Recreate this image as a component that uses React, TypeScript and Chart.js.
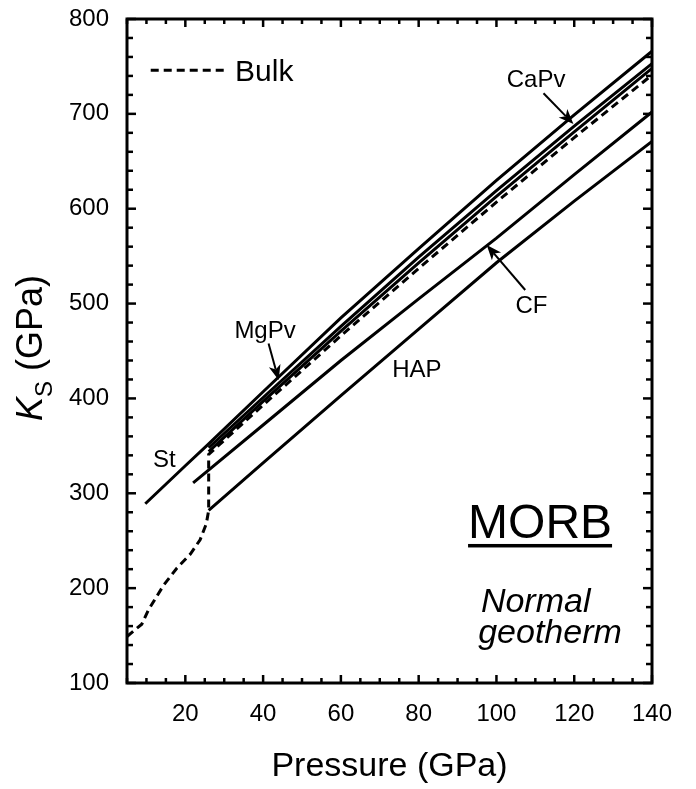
import React, { useEffect, useRef } from "react";
import { Chart, registerables } from "chart.js";
Chart.register(...registerables);

// ---- data (pressure in GPa, K_S in GPa) ----
const stP = [9.7, 20, 26, 40, 60, 80, 100, 120, 140];
const stK = [289, 329, 352, 407, 485, 558, 630, 699, 766];

const caPvP = [26, 40, 60, 80, 100, 120, 140];
const caPvK = [348, 401, 476, 549, 619, 687, 753];

const mgPvP = [26, 40, 60, 80, 100, 120, 140];
const mgPvK = [344, 397, 471, 543, 613, 681, 748];

const cfP = [22, 40, 60, 80, 100, 120, 140];
const cfK = [311, 372, 440, 505, 569, 636, 702];

const hapP = [26, 40, 60, 80, 100, 120, 140];
const hapK = [282, 332, 403, 473, 543, 608, 671];

const bulkP = [5, 8.8, 10.5, 14.4, 17.8, 21.3, 23.8, 25.4, 26, 26, 40, 60, 80, 100, 120, 140];
const bulkK = [149, 162, 177, 203, 221, 236, 251, 268, 282, 341, 393, 466, 537, 607, 675, 741];

const xTickLabels = [20, 40, 60, 80, 100, 120, 140];
const yTickLabels = [100, 200, 300, 400, 500, 600, 700, 800];
const X_MIN = 5;
const X_MAX = 140;
const Y_MIN = 100;
const Y_MAX = 800;
const X_MINOR = 5;
const Y_MINOR = 20;

const FONT = '"Liberation Sans", Arial, Helvetica, sans-serif';

const pts = (p: number[], k: number[]) => p.map((x, i) => ({ x, y: k[i] }));

function drawArrow(ctx: CanvasRenderingContext2D, x1: number, y1: number, x2: number, y2: number) {
  const ang = Math.atan2(y2 - y1, x2 - x1);
  const L = 15, W = 6, N = 11;
  ctx.beginPath();
  ctx.moveTo(x1, y1);
  ctx.lineTo(x2 - Math.cos(ang) * N, y2 - Math.sin(ang) * N);
  ctx.lineWidth = 2;
  ctx.stroke();
  const bx = x2 - Math.cos(ang) * L, by = y2 - Math.sin(ang) * L;
  const nx = -Math.sin(ang), ny = Math.cos(ang);
  ctx.beginPath();
  ctx.moveTo(x2, y2);
  ctx.lineTo(bx + nx * W, by + ny * W);
  ctx.lineTo(x2 - Math.cos(ang) * N, y2 - Math.sin(ang) * N);
  ctx.lineTo(bx - nx * W, by - ny * W);
  ctx.closePath();
  ctx.fill();
}

const overlay = {
  id: "overlay",
  afterDraw(chart: any) {
    const { ctx, chartArea: a, scales } = chart;
    const xs = scales.x, ys = scales.y;
    const px = (v: number) => xs.getPixelForValue(v);
    const py = (v: number) => ys.getPixelForValue(v);
    ctx.save();
    ctx.strokeStyle = "#000";
    ctx.fillStyle = "#000";
    const seg = (x1: number, y1: number, x2: number, y2: number) => {
      ctx.beginPath();
      ctx.moveTo(x1, y1);
      ctx.lineTo(x2, y2);
      ctx.stroke();
    };
    // inward ticks
    ctx.lineWidth = 2.5;
    for (let v = X_MIN; v <= X_MAX + 1e-6; v += X_MINOR) {
      const major = xTickLabels.includes(v);
      const len = major ? 8 : 5;
      const x = px(v);
      seg(x, a.bottom, x, a.bottom - len);
      seg(x, a.top, x, a.top + len);
    }
    for (let v = Y_MIN; v <= Y_MAX + 1e-6; v += Y_MINOR) {
      const major = yTickLabels.includes(v);
      const len = major ? 9 : 6;
      const y = py(v);
      seg(a.left, y, a.left + len, y);
      seg(a.right, y, a.right - len, y);
    }
    // frame
    ctx.lineWidth = 3;
    ctx.strokeRect(a.left, a.top, a.right - a.left, a.bottom - a.top);

    // legend
    ctx.lineWidth = 3;
    ctx.setLineDash([8, 5]);
    seg(px(11.1), py(746), px(30.2), py(746));
    ctx.setLineDash([]);
    ctx.font = `30px ${FONT}`;
    ctx.textAlign = "left";
    ctx.textBaseline = "alphabetic";
    ctx.fillText("Bulk", px(32.8), py(734.6));

    // mineral labels
    ctx.font = `24px ${FONT}`;
    ctx.textAlign = "center";
    ctx.fillText("CaPv", px(110.2), py(728.3));
    ctx.fillText("MgPv", px(40.5), py(463.7));
    ctx.fillText("CF", px(109), py(490));
    ctx.textAlign = "left";
    ctx.fillText("HAP", px(73.2), py(422.6));
    ctx.fillText("St", px(11.7), py(327.7));

    // arrows
    drawArrow(ctx, px(112.1), py(721.7), px(119.8), py(689.3));
    drawArrow(ctx, px(41.4), py(458), px(44), py(419.4));
    drawArrow(ctx, px(107.4), py(514.3), px(97.5), py(561.7));

    // MORB
    ctx.font = `48px ${FONT}`;
    ctx.textAlign = "left";
    const mx = px(92.7), my = py(252.9);
    ctx.fillText("MORB", mx, my);
    const mw = ctx.measureText("MORB").width;
    ctx.fillRect(mx, my + 6, mw, 3.5);

    ctx.font = `italic 34px ${FONT}`;
    ctx.fillText("Normal", px(96), py(174.9));
    ctx.fillText("geotherm", px(95.3), py(142.2));

    // y-axis title: K_S (GPa)
    const f1 = `italic 36px ${FONT}`, f2 = `24px ${FONT}`, f3 = `36px ${FONT}`;
    ctx.font = f1; const wK = ctx.measureText("K").width;
    ctx.font = f2; const wS = ctx.measureText("S").width;
    ctx.font = f3; const wG = ctx.measureText(" (GPa)").width;
    const total = wK + wS + wG;
    const cy = (a.top + a.bottom) / 2 - 3;
    ctx.translate(42, cy + total / 2);
    ctx.rotate(-Math.PI / 2);
    ctx.textAlign = "left";
    ctx.font = f1; ctx.fillText("K", 0, 0);
    ctx.font = f2; ctx.fillText("S", wK, 10);
    ctx.font = f3; ctx.fillText(" (GPa)", wK + wS, 0);
    ctx.restore();
  },
};

export default function App() {
  const ref = useRef<HTMLCanvasElement | null>(null);
  useEffect(() => {
    if (!ref.current) return;
    const solid = (label: string, p: number[], k: number[]) => ({
      label,
      data: pts(p, k),
      borderColor: "#000",
      borderWidth: 3,
      pointRadius: 0,
      tension: 0,
      fill: false,
      order: 0,
    });
    const chart = new Chart(ref.current, {
      type: "line",
      data: {
        datasets: [
          solid("St", stP, stK),
          solid("CaPv", caPvP, caPvK),
          solid("MgPv", mgPvP, mgPvK),
          solid("CF", cfP, cfK),
          solid("HAP", hapP, hapK),
          {
            label: "Bulk",
            data: pts(bulkP, bulkK),
            borderColor: "#000",
            borderWidth: 3,
            borderDash: [8, 5],
            pointRadius: 0,
            tension: 0,
            fill: false,
            order: 1,
          },
        ],
      },
      options: {
        responsive: false,
        animation: false,
        events: [],
        layout: { padding: { top: 19, right: 44, left: 0, bottom: 0 } },
        plugins: { legend: { display: false }, tooltip: { enabled: false } },
        scales: {
          x: {
            type: "linear",
            min: X_MIN,
            max: X_MAX,
            grid: { display: false, drawTicks: false },
            border: { display: false },
            afterBuildTicks: (s: any) => { s.ticks = xTickLabels.map((v) => ({ value: v })); },
            afterFit: (s: any) => { s.height = 106; s.paddingLeft = 0; s.paddingRight = 0; },
            ticks: { color: "#000", font: { family: FONT, size: 24 }, padding: 17, maxRotation: 0, autoSkip: false },
            title: {
              display: true,
              text: "Pressure (GPa)",
              color: "#000",
              font: { family: FONT, size: 34 },
              padding: { top: 0, bottom: 2 },
            },
          },
          y: {
            type: "linear",
            min: Y_MIN,
            max: Y_MAX,
            grid: { display: false, drawTicks: false },
            border: { display: false },
            afterBuildTicks: (s: any) => { s.ticks = yTickLabels.map((v) => ({ value: v })); },
            afterFit: (s: any) => { s.width = 127; s.paddingTop = 0; s.paddingBottom = 0; },
            ticks: { color: "#000", font: { family: FONT, size: 24 }, padding: 18, autoSkip: false },
          },
        },
      },
      plugins: [overlay],
    } as any);
    return () => chart.destroy();
  }, []);
  return (
    <div style={{ position: "fixed", left: 0, top: 0, width: 696, height: 789, background: "#fff" }}>
      <canvas ref={ref} width={696} height={789} style={{ display: "block" }} />
    </div>
  );
}
